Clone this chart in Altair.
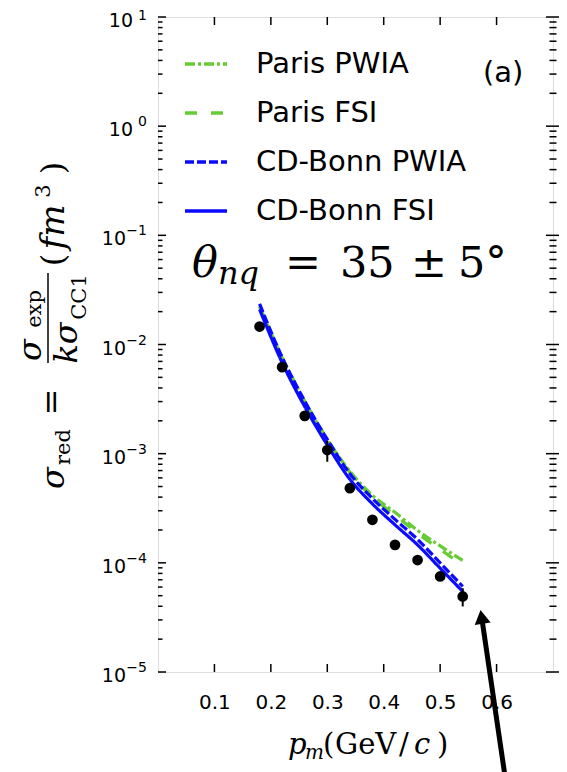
import altair as alt
import pandas as pd

# ---------------- data ----------------
pm = [0.18, 0.22, 0.26, 0.30, 0.34, 0.38, 0.42, 0.46, 0.50, 0.54]
sigma_red = [1.46e-2, 6.2e-3, 2.22e-3, 1.08e-3, 4.83e-4, 2.48e-4, 1.46e-4, 1.06e-4, 7.5e-5, 4.92e-5]
rel_err = [0.06, 0.06, 0.06, 0.22, 0.06, 0.07, 0.07, 0.07, 0.07, 0.19]

curve_pm = [0.18, 0.22, 0.26, 0.30, 0.34, 0.38, 0.42, 0.46, 0.50, 0.54]
paris_pwia = [2.24e-2, 7.59e-3, 3.02e-3, 1.35e-3, 6.9e-4, 4.15e-4, 2.9e-4, 1.98e-4, 1.43e-4, 1.05e-4]
paris_fsi = [2.24e-2, 7.59e-3, 3.02e-3, 1.35e-3, 6.76e-4, 3.98e-4, 2.75e-4, 1.86e-4, 1.33e-4, 9.5e-5]
cdbonn_pwia = [2.36e-2, 7.65e-3, 3.03e-3, 1.35e-3, 6.54e-4, 3.89e-4, 2.50e-4, 1.64e-4, 1.00e-4, 6.07e-5]
cdbonn_fsi = [2.10e-2, 6.82e-3, 2.70e-3, 1.20e-3, 5.83e-4, 3.47e-4, 2.23e-4, 1.46e-4, 8.93e-5, 5.46e-5]

models = ["Paris PWIA", "Paris FSI", "CD-Bonn PWIA", "CD-Bonn FSI"]
model_colors = ["#66cc33", "#66cc33", "#0a0aff", "#0a0aff"]
model_dashes = [[10, 3, 3, 3], [12, 14], [9, 3], [1, 0]]

x_ticks = [0.1, 0.2, 0.3, 0.4, 0.5, 0.6]
y_exponents = [-5, -4, -3, -2, -1, 0, 1]
y_major = [10.0 ** e for e in y_exponents]
y_minor = [k * 10.0 ** e for e in range(-5, 1) for k in range(2, 10)]

arrow_x = [0.614, 0.5735]
arrow_y = [1.2e-6, 3.2e-5]

# ---------------- layout ----------------
W, H = 395, 655
PADL, PADT = 150, 9
OX, OY = 8 + PADL, 8 + PADT  # page position of plot origin

xs = alt.Scale(domain=[0, 0.7], nice=False, zero=False)
ys = alt.Scale(type="log", domain=[1e-5, 10], nice=False)


def Y(field):
    return alt.Y(field, scale=ys, axis=None)


pts = pd.DataFrame({"pm": pm, "s": sigma_red,
                    "lo": [v * (1 - e) for v, e in zip(sigma_red, rel_err)],
                    "hi": [v * (1 + e) for v, e in zip(sigma_red, rel_err)]})

curves = {"Paris PWIA": paris_pwia, "Paris FSI": paris_fsi,
          "CD-Bonn PWIA": cdbonn_pwia, "CD-Bonn FSI": cdbonn_fsi}

legend = alt.Legend(orient="none", legendX=25, legendY=24, title=None,
                    symbolType="stroke", symbolSize=1764, symbolStrokeWidth=3.5,
                    labelFontSize=29, labelFont="DejaVu Sans", labelColor="black",
                    labelOffset=27, rowPadding=11, padding=0, labelLimit=400)

base_x = alt.X("pm:Q", scale=xs,
               axis=alt.Axis(values=x_ticks, format=".1f", title=None, tickSize=0,
                             domain=False, grid=False, labelFontSize=20,
                             labelFont="DejaVu Sans", labelColor="black",
                             labelPadding=20, labelFlush=False))

layers = []
for name in models:
    df = pd.DataFrame({"pm": curve_pm, "v": curves[name], "model": name})
    layers.append(
        alt.Chart(df).mark_line(strokeWidth=3.2, interpolate="monotone").encode(
            x=base_x, y=Y("v:Q"),
            color=alt.Color("model:N", scale=alt.Scale(domain=models, range=model_colors),
                            legend=legend),
            strokeDash=alt.StrokeDash("model:N",
                                      scale=alt.Scale(domain=models, range=model_dashes),
                                      legend=legend),
        )
    )

err = alt.Chart(pts).mark_rule(color="black", strokeWidth=2).encode(
    x=alt.X("pm:Q", scale=xs), y=Y("lo:Q"), y2="hi:Q")
dots = alt.Chart(pts).mark_circle(color="black", size=115, opacity=1).encode(
    x=alt.X("pm:Q", scale=xs), y=Y("s:Q"))

# ---------------- y tick labels: "10" with a raised exponent ----------------
ylab_df = pd.DataFrame({"v": y_major, "e": y_exponents})
lab_style = dict(font="DejaVu Sans", align="right", baseline="middle", color="black")
ylab_neg = alt.Chart(ylab_df).transform_filter("datum.e < 0").mark_text(
    text="10", fontSize=19, dy=4, **lab_style).encode(y=Y("v:Q"), x=alt.value(-32))
ylab_pos = alt.Chart(ylab_df).transform_filter("datum.e >= 0").mark_text(
    text="10", fontSize=19, dy=4, **lab_style).encode(y=Y("v:Q"), x=alt.value(-25))
exp_calc = "replace(format(datum.e, 'd'), '-', '\u2212')"
ylab_exp = alt.Chart(ylab_df).transform_filter("datum.e < 1").transform_calculate(
    t=exp_calc).mark_text(fontSize=14, dy=-4, **lab_style).encode(
    y=Y("v:Q"), x=alt.value(-11), text="t:N")
ylab_exp_top = alt.Chart(ylab_df).transform_filter("datum.e >= 1").transform_calculate(
    t=exp_calc).mark_text(fontSize=14, dy=-1, **lab_style).encode(
    y=Y("v:Q"), x=alt.value(-11), text="t:N")

# ---------------- ticks (inward, matplotlib style) ----------------
ymaj_df = pd.DataFrame({"v": y_major})
ymin_df = pd.DataFrame({"v": y_minor})
xt_df = pd.DataFrame({"pm": x_ticks})
tk = dict(color="black", strokeWidth=1.5)
ticks = [
    alt.Chart(ymaj_df).mark_rule(**tk).encode(y=Y("v:Q"), x=alt.value(0), x2=alt.value(8)),
    alt.Chart(ymin_df).mark_rule(**tk).encode(y=Y("v:Q"), x=alt.value(0), x2=alt.value(4.5)),
    alt.Chart(ymaj_df).mark_rule(**tk).encode(y=Y("v:Q"), x=alt.value(W - 7), x2=alt.value(W + 7)),
    alt.Chart(ymin_df).mark_rule(**tk).encode(y=Y("v:Q"), x=alt.value(W - 3.5), x2=alt.value(W + 3.5)),
    alt.Chart(xt_df).mark_rule(**tk).encode(x=alt.X("pm:Q", scale=xs), y=alt.value(H), y2=alt.value(H - 8)),
    alt.Chart(xt_df).mark_rule(**tk).encode(x=alt.X("pm:Q", scale=xs), y=alt.value(0), y2=alt.value(8)),
]

# ---------------- arrow annotation ----------------
arr_df = pd.DataFrame({"pm": arrow_x, "v": arrow_y})
arrow_line = alt.Chart(arr_df).mark_line(color="black", strokeWidth=5, clip=False).encode(
    x=alt.X("pm:Q", scale=xs), y=Y("v:Q"))
arrow_head = alt.Chart(arr_df.iloc[[1]]).mark_point(
    shape="triangle-up", filled=True, color="black", size=260, angle=351, opacity=1,
    clip=False).encode(x=alt.X("pm:Q", scale=xs), y=Y("v:Q"))


# ---------------- text annotations (page coordinates) ----------------
def txt(s, px, py, size, font="DejaVu Serif", style="normal", align="left",
        baseline="alphabetic", angle=0):
    return alt.Chart(alt.Data(values=[{}])).mark_text(
        text=s, fontSize=size, font=font, fontStyle=style, align=align,
        baseline=baseline, angle=angle, color="black").encode(
        x=alt.value(px - OX), y=alt.value(py - OY))


texts = [
    txt("(a)", 483, 82, 29, font="DejaVu Sans"),
    # theta label
    txt("θ", 192, 277, 43, style="italic"),
    txt("nq", 218, 284, 32, style="italic"),
    txt("=", 285, 277, 43),
    txt("35", 340, 277, 43),
    txt("±", 411, 277, 43),
    txt("5°", 458, 277, 43),
    # x title p_m(GeV/c)
    txt("p", 288, 754, 29, style="italic"),
    txt("m", 305, 759, 20, style="italic"),
    txt("(", 323, 754, 29),
    txt("GeV", 335, 754, 29),
    txt("/", 399, 754, 29),
    txt("c", 414, 754, 29, style="italic"),
    txt(")", 437, 754, 29),
    # y title (rotated)
    txt("σ", 64, 478, 32, style="italic", align="center", angle=270),
    txt("red", 70, 447, 21, align="center", angle=270),
    txt("=", 62, 402, 32, align="center", angle=270),
    txt("σ", 41, 350, 32, style="italic", align="center", angle=270),
    txt("exp", 41, 309, 21, align="center", angle=270),
    txt("kσ", 77, 343, 32, style="italic", align="center", angle=270),
    txt("CC1", 86, 297, 21, align="center", angle=270),
    txt("(", 64, 260, 32, align="center", angle=270),
    txt("fm", 64, 227, 34, style="italic", align="center", angle=270),
    txt("3", 50, 191, 21, align="center", angle=270),
    txt(")", 64, 168, 32, align="center", angle=270),
]
frac_bar = alt.Chart(alt.Data(values=[{}])).mark_rule(color="black", strokeWidth=1.5).encode(
    x=alt.value(48 - OX), y=alt.value(273 - OY), y2=alt.value(363 - OY))

chart = alt.layer(*ticks, *layers, err, dots, ylab_neg, ylab_pos, ylab_exp, ylab_exp_top,
                  arrow_line, arrow_head, *texts, frac_bar).properties(
    width=W, height=H,
    autosize=alt.AutoSizeParams(type="none"),
    padding={"left": PADL, "top": PADT, "right": 6, "bottom": 100},
).configure_view(stroke="black", strokeWidth=2.2).configure(background="white")

chart.save("out.html", embed_options={"renderer": "svg", "actions": False})
